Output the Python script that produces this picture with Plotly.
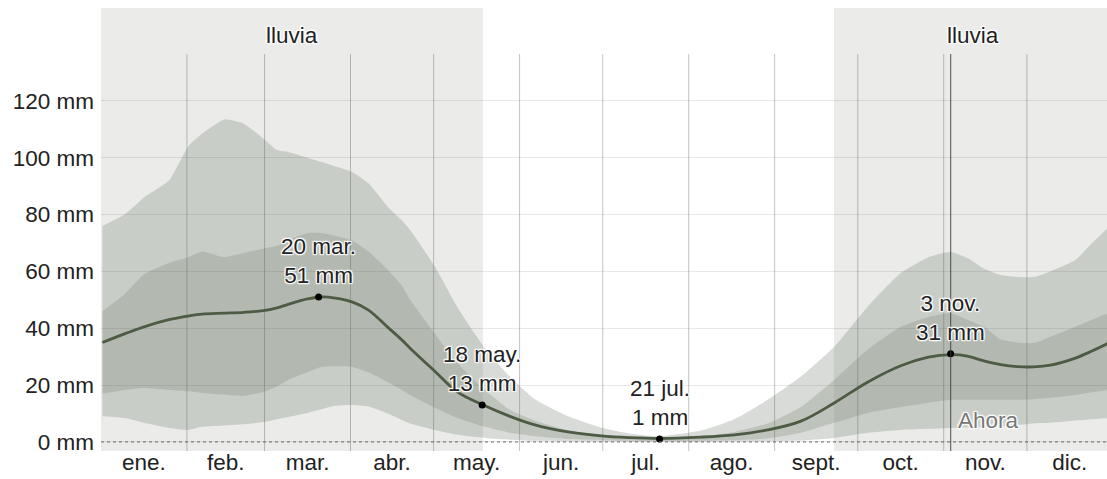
import plotly.graph_objects as go

# day of year (0 = 1 Jan) at which values were read
days = [0, 8, 15, 24, 31, 36, 44, 51, 58, 63, 67, 74, 79, 84, 90, 96, 103, 108, 111,
        120, 128, 138, 147, 156, 168, 180, 190, 201, 216, 228, 240, 252, 264, 276,
        288, 298, 306, 312, 318, 324, 330, 336, 342, 351, 357, 363]

p90 = [76, 80, 86, 92, 104, 108.5, 113.5, 112, 106.8, 102.7, 102, 100, 98.5, 97, 95,
       91, 82.7, 78, 74.6, 61.6, 47.5, 33, 23, 15, 9, 5, 3, 2, 4, 8, 14.8, 23, 33.5,
       47.5, 59.4, 65, 66.8, 64.7, 61, 58.7, 58, 58, 60, 64, 70, 75.6]
p75 = [46, 52, 59, 63, 65, 67, 65, 66.5, 68, 69, 71, 73.5, 73.5, 72.5, 71, 67, 60.5,
       55, 50, 38, 27.8, 18.3, 11.3, 7.5, 4, 2.5, 1.8, 1.5, 2, 3.5, 6.5, 12.3, 21.8,
       32.4, 40.5, 44, 45.3, 43, 40.5, 36, 35, 34.8, 37, 40.5, 43, 45.3]
median = [35, 38, 40.5, 43, 44.3, 45, 45.3, 45.6, 46.2, 47.2, 48.4, 50.3, 51, 50.6,
          49.3, 46.4, 40.3, 35.9, 33, 24.8, 17.6, 12.7, 9, 6, 3.5, 2.1, 1.5, 1.2, 1.7,
          2.5, 4.2, 7.3, 13.7, 21, 26.8, 29.8, 30.7, 30.2, 28.5, 27.2, 26.5, 26.4, 27,
          29.5, 32, 34.8]
p25 = [17, 18.3, 19, 18.3, 17.8, 17.2, 16.6, 16.2, 17.6, 19.5, 21.8, 24.6, 26.4, 26.6,
       26.4, 24.5, 21, 18.3, 16.5, 12, 8.4, 5.3, 3.2, 2, 1, 0.6, 0.4, 0.3, 0.4, 0.6,
       1.2, 3.2, 6.7, 10.2, 12.3, 13.8, 14.8, 14.8, 14.8, 14.8, 14.8, 15, 15.5, 16.5,
       17.5, 18.3]
p10 = [9, 8.4, 6.7, 4.9, 4.2, 5.3, 5.8, 6.2, 7, 8, 8.8, 10.2, 11.5, 12.7, 13, 12.5, 10,
       7.7, 6.5, 4.2, 2.5, 1.4, 0.8, 0.4, 0.2, 0.1, 0, 0, 0, 0.1, 0.2, 0.5, 1.4, 3.2,
       4.2, 4.6, 4.9, 5.1, 5.3, 5.5, 6, 6.5, 6.7, 7.5, 8, 8.4]

month_starts = [0, 31, 59, 90, 120, 151, 181, 212, 243, 273, 304, 334, 365]
month_labels = ["ene.", "feb.", "mar.", "abr.", "may.", "jun.", "jul.", "ago.",
                "sept.", "oct.", "nov.", "dic."]

y_ticks = [0, 20, 40, 60, 80, 100, 120]
y_labels = [f"{v} mm" for v in y_ticks]

# rainy season spans (start day, end day)
wet_seasons = [(0, 137.8), (264.4, 365)]

# highlighted points: (day index, label, value)
highlights = [(78, "20 mar.<br>51 mm", 51), (137, "18 may.<br>13 mm", 13),
              (201, "21 jul.<br>1 mm", 1), (306, "3 nov.<br>31 mm", 31)]
now_day = 306.5

FONT = "Liberation Sans, Arial, sans-serif"
FS = 22.5
HALO = ("white 1px 1px 1px, white -1px -1px 1px, white 1px -1px 1px, "
        "white -1px 1px 1px, white 0px 0px 3px")
Y_MIN, Y_MAX = -3.2, 152.7
GRID_TOP = 136.5

x = [d + 0.5 for d in days]

fig = go.Figure()

outer = "rgba(100,112,95,0.25)"
inner = "rgba(100,112,95,0.22)"
band_line = dict(width=0, shape="spline", smoothing=0.5)

fig.add_trace(go.Scatter(x=x, y=p10, mode="lines", line=band_line,
                         hoverinfo="skip", showlegend=False))
fig.add_trace(go.Scatter(x=x, y=p90, mode="lines", fill="tonexty", fillcolor=outer,
                         line=band_line, hoverinfo="skip", showlegend=False))
fig.add_trace(go.Scatter(x=x, y=p25, mode="lines", line=band_line,
                         hoverinfo="skip", showlegend=False))
fig.add_trace(go.Scatter(x=x, y=p75, mode="lines", fill="tonexty", fillcolor=inner,
                         line=band_line, hoverinfo="skip", showlegend=False))
fig.add_trace(go.Scatter(x=x, y=median, mode="lines",
                         line=dict(color="#4d5b45", width=2.8, shape="spline",
                                   smoothing=1.0),
                         showlegend=False))

fig.add_trace(go.Scatter(x=[h[0] + 0.5 for h in highlights],
                         y=[h[2] for h in highlights], mode="markers",
                         marker=dict(color="black", size=7), showlegend=False))

shapes = []
for s, e in wet_seasons:
    shapes.append(dict(type="rect", layer="below", xref="x", yref="y",
                       x0=s, x1=e, y0=Y_MIN, y1=Y_MAX,
                       fillcolor="#ebecea", line=dict(width=0)))
for m in month_starts[1:-1]:
    shapes.append(dict(type="line", layer="between", xref="x", yref="y",
                       x0=m, x1=m, y0=Y_MIN, y1=GRID_TOP,
                       line=dict(color="rgba(0,0,0,0.24)", width=1)))
shapes.append(dict(type="line", layer="above", xref="x", yref="y",
                   x0=now_day, x1=now_day, y0=Y_MIN, y1=GRID_TOP,
                   line=dict(color="rgba(60,60,60,0.75)", width=1.2)))
shapes.append(dict(type="line", layer="above", xref="paper", yref="y",
                   x0=0, x1=1, y0=0, y1=0,
                   line=dict(color="#666", width=1, dash="dot")))

annotations = []
for s, e in wet_seasons:
    annotations.append(dict(x=(s + e) / 2, y=143, xref="x", yref="y",
                            text="lluvia", showarrow=False,
                            font=dict(family=FONT, size=FS, color="#222",
                                      shadow=HALO)))
for d, label, v in highlights:
    annotations.append(dict(x=d + 0.5, y=v, xref="x", yref="y", text=label,
                            showarrow=False, yanchor="bottom", yshift=7,
                            font=dict(family=FONT, size=FS, color="#222",
                                      shadow=HALO)))
annotations.append(dict(x=now_day, y=7.7, xref="x", yref="y", text="Ahora",
                        showarrow=False, xanchor="left", xshift=5,
                        font=dict(family=FONT, size=FS, color="#777",
                                  shadow=HALO)))

mid_months = [(month_starts[i] + month_starts[i + 1]) / 2 for i in range(12)]

fig.update_layout(
    width=1107,
    height=479,
    margin=dict(l=101, r=0, t=8, b=28, autoexpand=False),
    plot_bgcolor="white",
    paper_bgcolor="white",
    font=dict(family=FONT, size=FS, color="#222"),
    shapes=shapes,
    annotations=annotations,
    xaxis=dict(range=[0, 362.9], tickvals=mid_months, ticktext=month_labels,
               showgrid=False, zeroline=False, showline=False, ticks="",
               automargin=False, ticklabelstandoff=-5),
    yaxis=dict(range=[Y_MIN, Y_MAX], tickvals=y_ticks, ticktext=y_labels,
               showgrid=True, gridcolor="rgba(0,0,0,0.09)", gridwidth=1,
               zeroline=False, showline=False, ticks="",
               automargin=False, ticklabelstandoff=6),
)

# drop the default page margin so the figure sits at the window's top-left corner
fig.write_html("out.html",
               config={"displayModeBar": False},
               post_script="document.body.style.margin='0';"
                           "document.body.style.overflow='hidden';")
